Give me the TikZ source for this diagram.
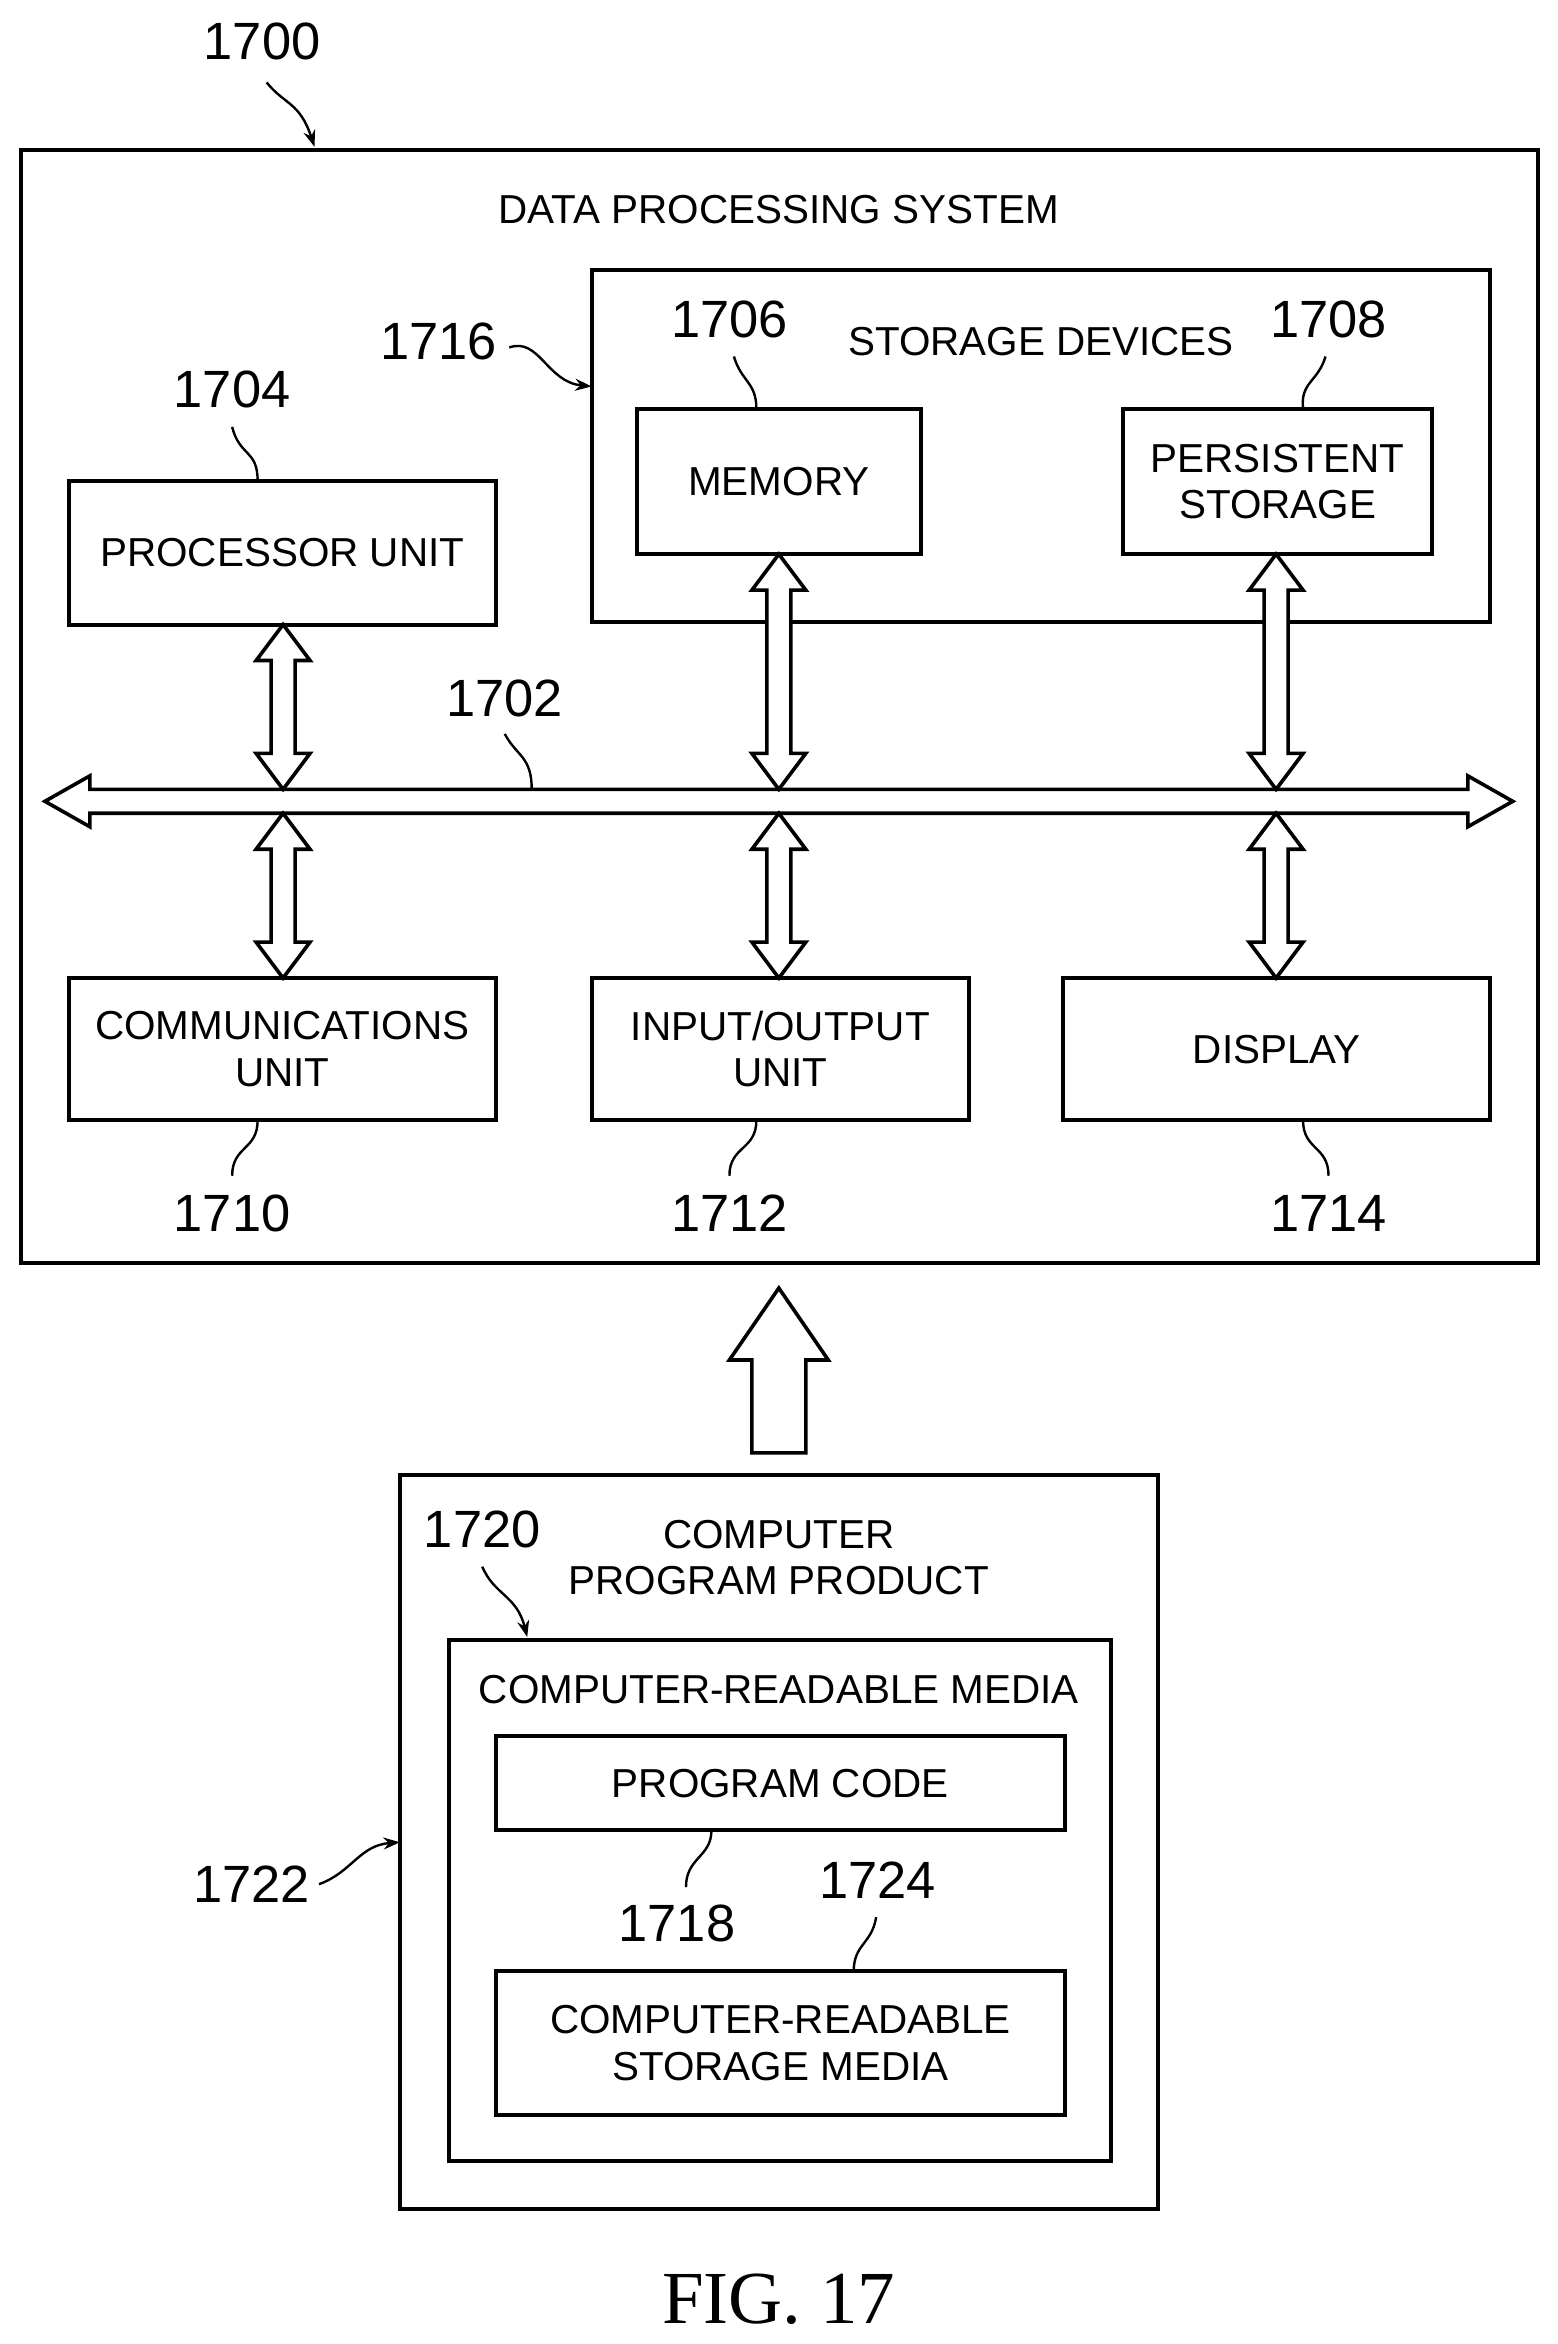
\documentclass[tikz,border=0pt]{standalone}
\usepackage{fontspec}
\setmainfont{Liberation Sans}
\newfontfamily\figfont{Liberation Serif}
\usetikzlibrary{arrows.meta}
\newcommand\vdarr[3]{% x, ytop, ybottom
  \draw[arr] (#1,#2) -- (#1+18,#2+24) -- (#1+8,#2+24) -- (#1+8,#3-24) -- (#1+18,#3-24) -- (#1,#3) -- (#1-18,#3-24) -- (#1-8,#3-24) -- (#1-8,#2+24) -- (#1-18,#2+24) -- cycle;}
\begin{document}
\begin{tikzpicture}[x=1pt,y=-1pt,
  box/.style={draw,line width=2.6pt},
  arr/.style={draw,line width=2.4pt,fill=white,line join=miter},
  lbl/.style={font=\fontsize{27}{31}\selectfont,align=center},
  num/.style={font=\fontsize{35}{38}\selectfont},
  lead/.style={line width=1.6pt},
  leadarr/.style={line width=1.6pt,-{Stealth[length=11pt,width=8pt]}}]
\useasboundingbox (0,0) rectangle (1040,1565);
\draw[box] (14,100) rectangle (1027,843);
\node[num] (n1700) at (175,28) {1700};
\draw[leadarr] (178,55) .. controls (190,70) and (200,68) .. (210,98);
\node[lbl] at (520,140) {DATA PROCESSING SYSTEM};
\draw[box] (395,180) rectangle (995,415);
\node[lbl] at (695,228) {STORAGE DEVICES};
\node[num] (n1716) at (293,228) {1716};
\draw[leadarr] (340,232) .. controls (360,225) and (365,255) .. (395,258);
\node[box,lbl,minimum width=190pt,minimum height=97pt] (mem) at (520,321.5) {MEMORY};
\node[num] at (487,213) {1706};
\draw[lead] (490,238) .. controls (495,255) and (505,255) .. (505,273);
\node[box,lbl,minimum width=206pt,minimum height=97pt] (pers) at (853,321.5) {PERSISTENT\\STORAGE};
\node[num] at (887,213) {1708};
\draw[lead] (885,238) .. controls (880,255) and (868,255) .. (870,273);
\node[box,lbl,minimum width=285pt,minimum height=96pt] (proc) at (188.5,369) {PROCESSOR UNIT};
\node[num] at (155,260) {1704};
\draw[lead] (155,285) .. controls (160,305) and (172,300) .. (172,321);
% bus
\draw[arr] (30,535) -- (60,518) -- (60,527) -- (980,527) -- (980,518) -- (1010,535) -- (980,552) -- (980,543) -- (60,543) -- (60,552) -- cycle;
\node[num] at (337,466) {1702};
\draw[lead] (337,490) .. controls (345,505) and (355,505) .. (355,527);
\vdarr{189}{417}{527}
\vdarr{189}{543}{653}
\vdarr{520}{370}{527}
\vdarr{520}{543}{653}
\vdarr{852}{370}{527}
\vdarr{852}{543}{653}
\node[box,lbl,minimum width=285pt,minimum height=95pt] (comm) at (188.5,700.5) {COMMUNICATIONS\\UNIT};
\node[box,lbl,minimum width=252pt,minimum height=95pt] (io) at (521,700.5) {INPUT/OUTPUT\\UNIT};
\node[box,lbl,minimum width=285pt,minimum height=95pt] (disp) at (852.5,700.5) {DISPLAY};
\node[num] at (155,810) {1710};
\draw[lead] (172,748) .. controls (172,768) and (155,765) .. (155,785);
\node[num] at (487,810) {1712};
\draw[lead] (505,748) .. controls (505,768) and (487,765) .. (487,785);
\node[num] at (887,810) {1714};
\draw[lead] (870,748) .. controls (870,768) and (887,765) .. (887,785);
% big arrow
\draw[arr] (520,860) -- (553,908) -- (538,908) -- (538,970) -- (502,970) -- (502,908) -- (487,908) -- cycle;
% CPP
\draw[box] (267,985) rectangle (773,1475);
\node[lbl] at (520,1040) {COMPUTER\\PROGRAM PRODUCT};
\node[num] at (322,1021) {1720};
\draw[leadarr] (322,1046) .. controls (330,1065) and (345,1065) .. (352,1093);
\node[num] at (168,1258) {1722};
\draw[leadarr] (213,1258) .. controls (235,1250) and (240,1232) .. (267,1230);
\draw[box] (300,1095) rectangle (742,1443);
\node[lbl] at (520,1128) {COMPUTER-READABLE MEDIA};
\node[box,lbl,minimum width=380pt,minimum height=63pt] (pc) at (521,1190.5) {PROGRAM CODE};
\node[num] at (452,1284) {1718};
\draw[lead] (475,1222) .. controls (475,1240) and (458,1240) .. (458,1260);
\node[num] at (586,1255) {1724};
\draw[lead] (585,1280) .. controls (582,1298) and (570,1298) .. (570,1316);
\node[box,lbl,minimum width=380pt,minimum height=96pt] (crsm) at (521,1364) {COMPUTER-READABLE\\STORAGE MEDIA};
\node[font=\figfont\fontsize{50}{55}\selectfont] at (520,1535) {FIG. 17};
\end{tikzpicture}
\end{document}
